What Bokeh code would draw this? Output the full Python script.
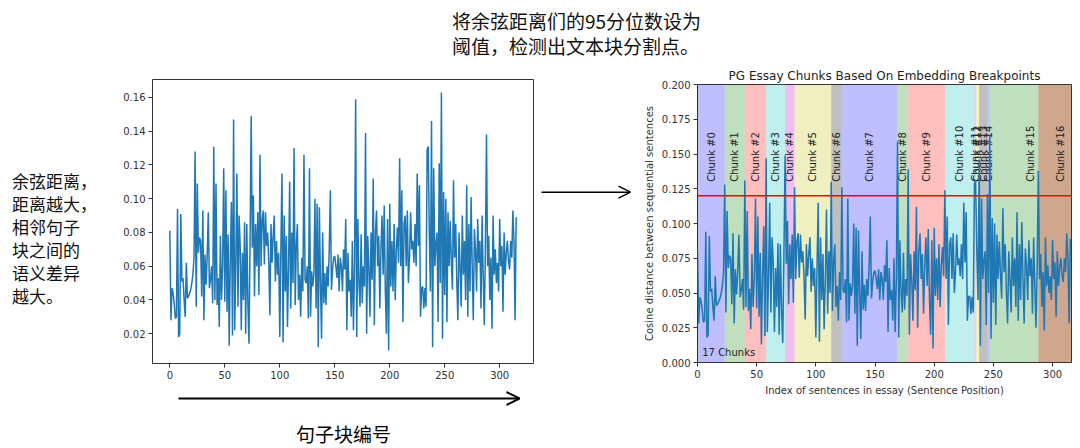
import math
from bokeh.plotting import figure
from bokeh.models import Range1d, FixedTicker, PrintfTickFormatter, Span, Arrow, OpenHead, Div, Spacer
from bokeh.layouts import row, column
from bokeh.embed import file_html
from bokeh.resources import INLINE
from bokeh.core.properties import value

# ---------------- data ----------------
distances = [
    0.081, 0.028, 0.047, 0.044, 0.038, 0.029, 0.030, 0.094, 0.018, 0.020,
    0.091, 0.051, 0.053, 0.040, 0.030, 0.062, 0.041, 0.042, 0.044, 0.046,
    0.050, 0.055, 0.065, 0.128, 0.036, 0.109, 0.068, 0.077, 0.075, 0.042,
    0.093, 0.028, 0.067, 0.049, 0.066, 0.092, 0.047, 0.052, 0.060, 0.038,
    0.131, 0.040, 0.109, 0.037, 0.053, 0.024, 0.078, 0.040, 0.060, 0.118,
    0.039, 0.105, 0.033, 0.079, 0.013, 0.063, 0.098, 0.019, 0.147, 0.022,
    0.060, 0.115, 0.036, 0.090, 0.072, 0.022, 0.068, 0.040, 0.086, 0.020,
    0.085, 0.038, 0.014, 0.075, 0.149, 0.071, 0.102, 0.042, 0.085, 0.060,
    0.092, 0.043, 0.126, 0.060, 0.087, 0.093, 0.061, 0.092, 0.072, 0.080,
    0.062, 0.031, 0.085, 0.062, 0.078, 0.090, 0.051, 0.075, 0.055, 0.068,
    0.018, 0.070, 0.115, 0.015, 0.090, 0.045, 0.078, 0.024, 0.060, 0.110,
    0.035, 0.080, 0.050, 0.130, 0.037, 0.072, 0.085, 0.040, 0.055, 0.030,
    0.065, 0.045, 0.126, 0.052, 0.050, 0.060, 0.029, 0.118, 0.030, 0.057,
    0.048, 0.055, 0.100, 0.035, 0.097, 0.012, 0.095, 0.050, 0.017, 0.080,
    0.038, 0.056, 0.037, 0.060, 0.048, 0.070, 0.105, 0.046, 0.058, 0.065,
    0.066, 0.060, 0.053, 0.067, 0.045, 0.065, 0.060, 0.045, 0.070, 0.058,
    0.088, 0.022, 0.068, 0.045, 0.052, 0.030, 0.075, 0.022, 0.060, 0.159,
    0.018, 0.088, 0.050, 0.036, 0.079, 0.038, 0.060, 0.048, 0.139, 0.020,
    0.078, 0.060, 0.030, 0.080, 0.052, 0.112, 0.025, 0.080, 0.093, 0.060,
    0.078, 0.035, 0.070, 0.090, 0.055, 0.096, 0.045, 0.020, 0.088, 0.010,
    0.097, 0.048, 0.075, 0.045, 0.085, 0.040, 0.070, 0.083, 0.062, 0.124,
    0.060, 0.105, 0.027, 0.085, 0.090, 0.060, 0.093, 0.050, 0.065, 0.092,
    0.070, 0.075, 0.062, 0.085, 0.060, 0.115, 0.072, 0.108, 0.030, 0.047,
    0.048, 0.035, 0.047, 0.036, 0.129, 0.131, 0.080, 0.045, 0.146, 0.012,
    0.118, 0.060, 0.073, 0.080, 0.027, 0.121, 0.050, 0.163, 0.017, 0.104,
    0.043, 0.100, 0.027, 0.092, 0.060, 0.087, 0.063, 0.046, 0.111, 0.065,
    0.085, 0.050, 0.028, 0.080, 0.060, 0.036, 0.090, 0.055, 0.075, 0.040,
    0.108, 0.030, 0.085, 0.045, 0.101, 0.060, 0.028, 0.082, 0.070, 0.045,
    0.088, 0.062, 0.075, 0.035, 0.090, 0.055, 0.025, 0.070, 0.138, 0.060,
    0.078, 0.040, 0.065, 0.023, 0.090, 0.055, 0.070, 0.050, 0.062, 0.045,
    0.088, 0.060, 0.072, 0.033, 0.080, 0.055, 0.068, 0.075, 0.063, 0.058,
    0.075, 0.065, 0.093, 0.075, 0.028, 0.089,
]
breakpoints = [23, 40, 58, 74, 82, 113, 122, 169, 178, 209, 234, 235, 238, 245, 247, 288]
threshold = 0.12
chunk_colors = ["#0000ff", "#008000", "#ff0000", "#00bfbf", "#bf00bf", "#bfbf00", "#000000"]
x_ticks = [0, 50, 100, 150, 200, 250, 300]
left_y_ticks = [0.02, 0.04, 0.06, 0.08, 0.10, 0.12, 0.14, 0.16]
right_y_ticks = [0.0, 0.025, 0.05, 0.075, 0.1, 0.125, 0.15, 0.175, 0.2]
right_y_max = 0.2
right_title = "PG Essay Chunks Based On Embedding Breakpoints"
right_xlabel = "Index of sentences in essay (Sentence Position)"
right_ylabel = "Cosine distance between sequential sentences"
top_note = ["将余弦距离们的95分位数设为", "阈值，检测出文本块分割点。"]
left_note = ["余弦距离，", "距离越大，", "相邻句子", "块之间的", "语义差异", "越大。"]
bottom_note = "句子块编号"

N = len(distances)
idx = list(range(N))
LINE_COLOR = "#1f77b4"
INK = "#333333"
CJK = "Noto Sans CJK SC"


def style(p, yfmt):
    p.grid.visible = False
    p.outline_line_color = INK
    p.outline_line_width = 1
    p.background_fill_color = "white"
    p.border_fill_color = "white"
    p.xaxis.ticker = FixedTicker(ticks=x_ticks)
    p.yaxis.formatter = PrintfTickFormatter(format=yfmt)
    for ax in p.axis:
        ax.axis_line_color = None
        ax.major_tick_in = 0
        ax.major_tick_out = 4
        ax.major_tick_line_color = INK
        ax.minor_tick_line_color = None
        ax.major_label_text_font = "DejaVu Sans"
        ax.major_label_text_font_size = "10px"
        ax.major_label_text_color = INK
        ax.major_label_standoff = 3
        ax.axis_label_text_font = "DejaVu Sans"
        ax.axis_label_text_font_size = "10px"
        ax.axis_label_text_font_style = "normal"
        ax.axis_label_text_color = INK
        ax.axis_label_standoff = 4


def blank(p):
    p.grid.visible = False
    p.outline_line_color = None
    p.background_fill_color = "white"
    p.border_fill_color = "white"


# ---------------- left chart ----------------
dmin, dmax = min(distances), max(distances)
ypad = 0.05 * (dmax - dmin)
xpad = 0.05 * (N - 1)
p1 = figure(width=432, height=328, output_backend="svg", toolbar_location=None,
            x_range=Range1d(-xpad, N - 1 + xpad), y_range=Range1d(dmin - ypad, dmax + ypad),
            min_border_left=44, min_border_right=7, min_border_top=21, min_border_bottom=23)
p1.line(idx, distances, line_color=LINE_COLOR, line_width=1.5)
style(p1, "%.2f")
p1.yaxis.ticker = FixedTicker(ticks=left_y_ticks)

# bottom arrow + label under left chart (page-pixel coordinates; frame aligned with p1)
pb = figure(width=432, height=60, output_backend="svg", toolbar_location=None,
            x_range=Range1d(152, 533), y_range=Range1d(446, 386),
            x_axis_location=None, y_axis_location=None,
            min_border_left=44, min_border_right=7, min_border_top=0, min_border_bottom=0)
blank(pb)
pb.add_layout(Arrow(end=OpenHead(size=13, line_width=2, line_color="black"),
                    x_start=178, y_start=398, x_end=519, y_end=398,
                    line_width=2, line_color="black"))
pb.text(x=[343], y=[433], text=[bottom_note], text_font=value(CJK), text_font_size="19px",
        text_align="center", text_baseline="middle", text_color="black")

# middle arrow
pm = figure(width=94, height=346, output_backend="svg", toolbar_location=None,
            x_range=Range1d(540, 634), y_range=Range1d(404, 58),
            x_axis_location=None, y_axis_location=None,
            min_border=0, min_border_left=0, min_border_right=0, min_border_top=0, min_border_bottom=0)
blank(pm)
pm.add_layout(Arrow(end=OpenHead(size=12, line_width=1.5, line_color="black"),
                    x_start=541, y_start=192, x_end=630, y_end=192,
                    line_width=1.5, line_color="black"))

# ---------------- right chart ----------------
p2 = figure(width=438, height=346, output_backend="svg", toolbar_location=None,
            x_range=Range1d(0, N), y_range=Range1d(0, right_y_max),
            title=right_title,
            min_border_left=63, min_border_right=1, min_border_top=26, min_border_bottom=42)
p2.title.text_font = "DejaVu Sans"
p2.title.text_font_size = "12px"
p2.title.text_font_style = "normal"
p2.title.text_color = "#222222"
p2.title.align = "center"
p2.title.standoff = 4

lefts, rights, cols, label_x, labels = [], [], [], [], []
for i, bp in enumerate(breakpoints):
    start = 0 if i == 0 else breakpoints[i - 1]
    end = bp if i < len(breakpoints) - 1 else N
    lefts.append(start)
    rights.append(end)
    cols.append(chunk_colors[i % len(chunk_colors)])
    label_x.append((start + end) / 2)
    labels.append(f"Chunk #{i}")
last_bp = breakpoints[-1]
lefts.append(last_bp)
rights.append(N)
cols.append(chunk_colors[len(breakpoints) % len(chunk_colors)])

p2.quad(left=lefts, right=rights, bottom=0, top=right_y_max, fill_color=cols,
        fill_alpha=0.25, line_color=None)
label_y = threshold + right_y_max / 20
p2.text(x=label_x, y=[label_y] * len(label_x), text=labels, angle=math.pi / 2,
        text_align="left", text_baseline="middle", text_font=value("DejaVu Sans"),
        text_font_size="10px", text_color="#222222")
p2.text(x=[(last_bp + N) / 2], y=[label_y], text=[f"Chunk #{len(breakpoints)}"], angle=math.pi / 2,
        text_align="left", text_baseline="top", text_font=value("DejaVu Sans"),
        text_font_size="10px", text_color="#222222")
p2.line(idx, distances, line_color=LINE_COLOR, line_width=1.5)
p2.add_layout(Span(location=threshold, dimension="width", line_color="red", line_width=1.5))
p2.text(x=[4], y=[0.003], text=[f"{len(breakpoints) + 1} Chunks"], text_align="left",
        text_baseline="bottom", text_font=value("DejaVu Sans"), text_font_size="10px",
        text_color="#222222")
style(p2, "%.3f")
p2.yaxis.ticker = FixedTicker(ticks=right_y_ticks)
p2.xaxis.axis_label = right_xlabel
p2.yaxis.axis_label = right_ylabel

# ---------------- text blocks ----------------
top_div = Div(text=("<div style=\"font-family:'Noto Sans CJK SC';font-size:19px;line-height:25px;"
                    "color:#111;padding-top:8px;white-space:nowrap;\">" + "<br>".join(top_note) + "</div>"),
              width=300, height=58, margin=(0, 0, 0, 0))
left_div = Div(text=("<div style=\"font-family:'Noto Sans CJK SC';font-size:17px;line-height:23px;"
                     "color:#111;padding-top:111px;padding-left:12px;white-space:nowrap;\">"
                     + "<br>".join(left_note) + "</div>"),
               width=108, height=388, margin=(0, 0, 0, 0))

top = row(Spacer(width=452, height=58, margin=(0, 0, 0, 0)), top_div)
main = row(left_div, column(p1, pb), pm, p2)
layout = column(top, main)

open("out.html", "w").write(file_html(layout, INLINE))
